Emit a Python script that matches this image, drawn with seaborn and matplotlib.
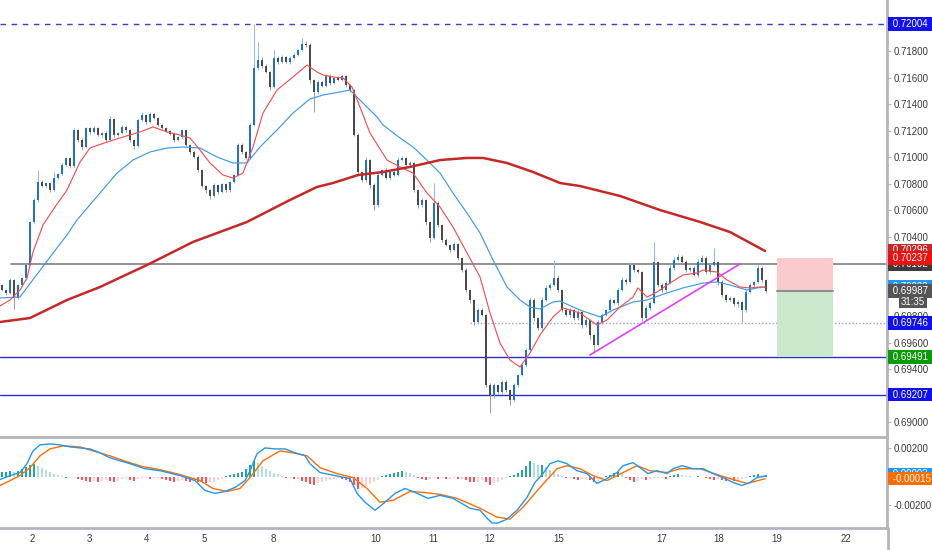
import numpy as np
import matplotlib
matplotlib.use("Agg")
import matplotlib.pyplot as plt
import matplotlib.transforms as mtransforms
from matplotlib.lines import Line2D
import seaborn as sns

# --- candles (one value per bar, bar index = x) ---
first_open = 0.70034
closes = [
    0.69996, 0.69974, 0.70072, 0.69936, 0.70034, 0.70087, 0.70185, 0.70510,
    0.70676, 0.70811, 0.70781, 0.70804, 0.70751, 0.70842, 0.70872, 0.70940,
    0.70993, 0.70932, 0.71204, 0.71128, 0.71076, 0.71219, 0.71189, 0.71219,
    0.71166, 0.71181, 0.71128, 0.71287, 0.71166, 0.71181, 0.71227, 0.71204,
    0.71128, 0.71083, 0.71279, 0.71317, 0.71264, 0.71325, 0.71295, 0.71242,
    0.71219, 0.71196, 0.71174, 0.71128, 0.71151, 0.71204, 0.71091, 0.71038,
    0.71000, 0.70902, 0.70781, 0.70751, 0.70706, 0.70789, 0.70736, 0.70796,
    0.70751, 0.70811, 0.70864, 0.71091, 0.71038, 0.70993, 0.71242, 0.71672,
    0.71732, 0.71687, 0.71642, 0.71528, 0.71747, 0.71717, 0.71755, 0.71717,
    0.71747, 0.71770, 0.71808, 0.71853, 0.71845, 0.71581, 0.71491, 0.71566,
    0.71536, 0.71611, 0.71559, 0.71596, 0.71581, 0.71611, 0.71544, 0.71506,
    0.71166, 0.70887, 0.70826, 0.70977, 0.70789, 0.70638, 0.70864, 0.70902,
    0.70842, 0.70887, 0.70864, 0.70977, 0.70993, 0.70940, 0.70955, 0.70751,
    0.70638, 0.70676, 0.70510, 0.70389, 0.70653, 0.70487, 0.70374, 0.70336,
    0.70298, 0.70343, 0.70238, 0.70147, 0.69996, 0.69921, 0.69755, 0.69845,
    0.69808, 0.69279, 0.69204, 0.69279, 0.69227, 0.69302, 0.69242, 0.69166,
    0.69279, 0.69355, 0.69430, 0.69544, 0.69921, 0.69785, 0.69710, 0.69921,
    0.70012, 0.70034, 0.70087, 0.69996, 0.69845, 0.69808, 0.69845, 0.69785,
    0.69830, 0.69732, 0.69770, 0.69657, 0.69581, 0.69755, 0.69808, 0.69845,
    0.69921, 0.69898, 0.69996, 0.70072, 0.70057, 0.70185, 0.70147, 0.70132,
    0.69785, 0.69861, 0.69898, 0.70208, 0.70034, 0.69996, 0.70049, 0.70162,
    0.70223, 0.70245, 0.70208, 0.70147, 0.70162, 0.70110, 0.70208, 0.70238,
    0.70132, 0.70185, 0.70208, 0.70057, 0.69959, 0.69921, 0.69936, 0.69891,
    0.69906, 0.69845, 0.69981, 0.70034, 0.70057, 0.70162, 0.70072, 0.69987,
]
# wick lengths beyond the body, in points (1e-5)
upper_wick_pts = [
    8, 10, 12, 6, 9, 10, 8, 10, 12, 90, 15, 10, 8, 45, 10, 12,
    10, 8, 15, 10, 12, 8, 10, 14, 8, 10, 12, 20, 10, 8, 12, 10,
    8, 10, 15, 20, 10, 12, 8, 10, 9, 8, 10, 12, 8, 10, 8, 10,
    8, 12, 10, 8, 10, 12, 8, 10, 9, 8, 10, 15, 12, 10, 14, 330,
    136, 20, 12, 10, 60, 15, 12, 10, 14, 12, 10, 45, 20, 12, 10, 15,
    10, 12, 15, 10, 18, 12, 10, 8, 10, 12, 10, 20, 10, 12, 15, 10,
    12, 10, 14, 20, 15, 10, 12, 8, 10, 12, 10, 8, 150, 12, 10, 12,
    10, 15, 8, 10, 12, 10, 8, 15, 12, 10, 12, 15, 10, 12, 15, 10,
    12, 10, 15, 12, 20, 15, 10, 20, 25, 15, 136, 20, 10, 12, 15, 10,
    12, 10, 15, 10, 8, 12, 15, 10, 12, 10, 15, 20, 12, 25, 15, 10,
    10, 12, 15, 150, 10, 12, 15, 20, 25, 20, 15, 12, 10, 15, 20, 25,
    12, 15, 105, 10, 12, 10, 12, 10, 12, 10, 15, 12, 10, 20, 12, 10,
]
lower_wick_pts = [
    10, 12, 8, 84, 10, 8, 12, 8, 10, 12, 10, 12, 15, 10, 8, 10,
    8, 12, 10, 15, 20, 10, 12, 8, 10, 12, 15, 10, 12, 10, 8, 12,
    15, 25, 10, 8, 12, 10, 8, 10, 12, 10, 8, 12, 10, 8, 10, 12,
    10, 15, 12, 20, 25, 10, 12, 10, 15, 12, 10, 8, 12, 10, 8, 10,
    12, 15, 10, 25, 8, 12, 10, 8, 12, 10, 8, 10, 12, 20, 150, 12,
    10, 8, 12, 10, 8, 10, 12, 15, 10, 20, 15, 12, 20, 40, 12, 10,
    10, 12, 10, 8, 10, 12, 10, 15, 25, 12, 20, 30, 10, 15, 12, 10,
    12, 10, 15, 12, 15, 20, 25, 12, 10, 15, 136, 20, 15, 12, 15, 38,
    15, 12, 10, 12, 15, 20, 15, 12, 10, 12, 10, 15, 12, 10, 15, 12,
    15, 20, 12, 30, 50, 10, 12, 10, 12, 10, 12, 10, 15, 10, 12, 10,
    20, 15, 12, 10, 15, 20, 12, 10, 12, 10, 12, 15, 12, 10, 12, 10,
    15, 12, 10, 20, 15, 12, 10, 15, 20, 90, 12, 10, 12, 10, 12, 10,
]

# --- moving averages (bar index, price) ---
ema_fast_bars = [-0.5, 2, 4.5, 6.25, 7.75, 10.25, 13.25, 16.25, 19.5, 22, 26.25, 30.25,
                 34.5, 37.75, 41.25, 44.5, 47, 49.5, 52, 55.25, 57.75, 60.25, 62.75, 65.25,
                 68.75, 72.75, 76.25, 78.75, 80.25, 82.75, 85.25, 87.5, 89.5, 92, 96.25, 99.5,
                 102.75, 106.25, 109.5, 112.75, 116.25, 119.5, 122, 124.5, 127, 129.5, 132,
                 134.5, 137.75, 140.25, 144.5, 148.75, 151.25, 154.5, 157.75, 159, 161.25,
                 163.75, 167, 170.25, 173.75, 175.25, 178.75, 181.25, 184.5, 187, 189.5, 190.75]
ema_fast_vals = [0.69876, 0.69921, 0.69996, 0.70087, 0.70283, 0.70487, 0.70623, 0.70751,
                 0.70962, 0.71068, 0.71113, 0.71151, 0.71189, 0.71227, 0.71189, 0.71166,
                 0.71143, 0.71053, 0.70955, 0.70864, 0.70842, 0.70879, 0.71076, 0.71332,
                 0.71506, 0.71604, 0.71694, 0.71642, 0.71619, 0.71604, 0.71596, 0.71528,
                 0.71377, 0.71181, 0.70977, 0.70925, 0.70879, 0.70728, 0.70623, 0.70472,
                 0.70276, 0.70095, 0.69823, 0.69596, 0.69468, 0.69415, 0.69521, 0.69657,
                 0.69793, 0.69861, 0.69823, 0.69732, 0.69770, 0.69868, 0.69943, 0.70012,
                 0.69943, 0.69981, 0.70049, 0.70110, 0.70125, 0.70147, 0.70132, 0.70072,
                 0.70019, 0.70012, 0.70019, 0.70019]
ema_slow_bars = [-0.5, 4.5, 12, 16.25, 18.75, 24.5, 28.75, 32.75, 37, 41.25, 45.25, 49.5,
                 53.75, 57.75, 61.25, 64.5, 68.75, 72.75, 77, 80.25, 84.5, 87, 89.5, 93.75,
                 95.25, 99.5, 102.75, 106.25, 109.5, 112.75, 116.25, 119.5, 122.75, 126.25,
                 129.5, 132, 134.5, 137.75, 139.5, 144.5, 149.5, 152.75, 157.75, 161.25,
                 166.25, 170.25, 175.25, 178.75, 182, 186.25, 188.75, 190.75]
ema_slow_vals = [0.69936, 0.69944, 0.70245, 0.70412, 0.70525, 0.70728, 0.70879, 0.70977,
                 0.71038, 0.71068, 0.71076, 0.71068, 0.71000, 0.70955, 0.70955, 0.71076,
                 0.71204, 0.71332, 0.71438, 0.71468, 0.71491, 0.71506, 0.71430, 0.71302,
                 0.71242, 0.71144, 0.71076, 0.70977, 0.70879, 0.70728, 0.70577, 0.70427,
                 0.70223, 0.70019, 0.69921, 0.69868, 0.69853, 0.69906, 0.69913, 0.69845,
                 0.69793, 0.69845, 0.69906, 0.69921, 0.69974, 0.70012, 0.70049, 0.70057,
                 0.70034, 0.69996, 0.70012, 0.70019]
sma200_bars = [-0.5, 7, 16.25, 24.5, 36.25, 47.75, 61.25, 72, 78.75, 82.75, 89, 95.25, 102,
               109.5, 116.25, 120.25, 126.25, 132.75, 139.5, 144.5, 154.5, 164.5, 174.5,
               182, 190.75]
sma200_vals = [0.69755, 0.69785, 0.69921, 0.70019, 0.70185, 0.70359, 0.70510, 0.70676,
               0.70774, 0.70804, 0.70864, 0.70887, 0.70925, 0.70977, 0.70993, 0.70993,
               0.70955, 0.70887, 0.70804, 0.70781, 0.70706, 0.70600, 0.70510, 0.70434,
               0.70291]

# --- MACD panel, values in points (1e-5) ---
macd_bars = [-0.5, 2, 4.5, 6.25, 7.75, 9.5, 12, 14.5, 17, 19.5, 22, 24.5, 27, 32, 35.75,
             39.5, 44.5, 48.25, 50.75, 53.25, 55.75, 58.25, 60.75, 62, 63.75, 65.75, 68.25,
             70.75, 73.25, 75.75, 77, 79.5, 83.25, 87, 88.75, 90.75, 93.25, 95.75, 98.25,
             100.75, 103.25, 106.5, 109.5, 112.75, 117, 119.5, 121.25, 122.5, 124, 126.25,
             128.75, 131.25, 133.25, 135.25, 137, 139, 141.25, 143.75, 146.25, 148.75,
             151.25, 153.75, 155.25, 157.75, 159.5, 161.5, 163.75, 166.25, 167.75, 170,
             172.75, 175.25, 177.75, 180.25, 182.75, 185, 187, 188.75, 190.75]
macd_pts = [-21, 7, 28, 90, 179, 221, 228, 221, 207, 200, 193, 166, 131, 90, 55, 41, 7,
            -28, -97, -117, -104, -76, -28, 41, 159, 200, 193, 193, 166, 145, 90, 28, 7,
            -14, -117, -179, -235, -179, -117, -83, -110, -152, -131, -152, -221, -235,
            -290, -324, -324, -297, -235, -145, -41, 21, 90, 110, 90, 41, 21, -48, -14, 28,
            76, 97, 62, 21, 41, 21, 55, 76, 55, 55, 21, -7, -41, -62, -41, -7, 3]
signal_bars = [-0.5, 2, 4.5, 7, 9.5, 12, 15.25, 19.5, 22.75, 27, 31.25, 35.25, 39.5, 44.5,
               49.5, 52.75, 56.25, 59.5, 62, 65.25, 69.5, 72.75, 76.25, 79.5, 83.75, 87.75,
               91.25, 94.5, 97.75, 102, 105.25, 109.5, 113.75, 119.5, 123.75, 127, 130.25,
               134.5, 138.75, 141.25, 144.5, 147.75, 151.25, 155.25, 158.75, 162, 166.25,
               169.5, 174.5, 179.5, 183.75, 186.25, 190.75]
signal_pts = [-62, -28, 7, 62, 145, 193, 214, 207, 179, 145, 103, 69, 48, 14, -28, -83,
              -104, -83, -7, 110, 179, 166, 145, 62, 21, -7, -83, -179, -166, -104, -110,
              -124, -152, -221, -283, -297, -214, -76, 55, 76, 55, 7, -28, 28, 76, 41, 28,
              55, 55, 7, -28, -48, -15]
hist_pts = [
    35, 35, 41, 35, 41, 55, 69, 83, 90, 76, 62, 48, 35, 21, 14, 7,
    -7, -7, -3, -14, -21, -28, -35, -28, -35, -28, -21, -28, -35, -28, -14, -7,
    -21, -28, -14, -7, -7, -14, -7, -7, -14, -21, -28, -35, -28, -21, -28, -35,
    -28, -35, -41, -48, -41, -35, -21, -14, 7, 14, 21, 28, 35, 55, 83, 110,
    97, 76, 55, 41, 28, 21, 7, -7, -7, -14, -14, -28, -41, -55, -62, -48,
    -35, -28, -21, -14, -7, -14, -21, -35, -62, -90, -83, -69, -55, -41, -21, 7,
    14, 21, 28, 35, 41, 35, 28, 14, -7, -14, -21, -14, -7, -14, -7, -14,
    -14, -7, -14, -14, -21, -35, -41, -35, -21, -41, -62, -48, -35, -21, -7, 7,
    14, 28, 48, 76, 110, 97, 83, 83, 69, 48, 35, 21, 7, -7, -7, -14,
    -21, -14, -14, -21, -35, -28, -14, 7, 14, 28, 35, 21, -7, -21, -35, -28,
    -14, -21, -14, -7, -7, -7, -14, 7, 14, 21, 14, 7, 3, -3, 3, -3,
    -7, -14, -21, -14, -21, -28, -21, -28, -21, -14, -7, 7, 14, 21, 14, 14,
]

# --- drawings ---
high_level = 0.72004
range_top = 0.70192
mid_level = 0.69746
support_1 = 0.69491
support_2 = 0.69207
trend_bars = [147, 184.5]
trend_vals = [0.69506, 0.70193]
pos_bars = [193.75, 207.75]
pos_stop, pos_entry, pos_target = 0.70237, 0.69987, 0.69491

day_labels = ["2", "3", "4", "5", "8", "10", "11", "12", "15", "17", "18", "19", "22"]
day_bars = [7.5, 21.75, 36.25, 50.5, 67.75, 93.5, 107.75, 122, 139.25, 165, 179.25, 193.75, 211]

sns.set_style("white")
plt.rcParams["font.family"] = ["Liberation Sans Narrow", "Liberation Sans", "DejaVu Sans"]

W, H = 932, 550
fig = plt.figure(figsize=(W / 100, H / 100), dpi=100)
ax = fig.add_axes([0, 113 / H, 887 / W, 437 / H])
axm = fig.add_axes([0, 22 / H, 887 / W, 89 / H])

AXIS_GRAY = "#b2b5be"
TXT = "#3a3a3a"

# candles
c = np.array(closes)
o = np.array([first_open] + closes[:-1])
bars = np.arange(len(c))
hi = np.maximum(o, c) + np.array(upper_wick_pts) * 1e-5
lo = np.minimum(o, c) - np.array(lower_wick_pts) * 1e-5
up = c >= o
body_col = np.where(up, "#1f6fd6", "#4a4a4a")
wick_col = np.where(up, "#8ab6ec", "#a0a0a0")
ax.vlines(bars, lo, hi, colors=wick_col, linewidth=0.7, zorder=2)
ax.bar(bars, np.maximum(np.abs(c - o), 0.00003), bottom=np.minimum(o, c), width=0.7,
       color=body_col, linewidth=0, zorder=3)

# moving averages
sns.lineplot(x=ema_slow_bars, y=ema_slow_vals, ax=ax, color="#3d9be9", linewidth=0.85,
             estimator=None, sort=False, legend=False, zorder=4)
sns.lineplot(x=ema_fast_bars, y=ema_fast_vals, ax=ax, color="#ef5350", linewidth=0.85,
             estimator=None, sort=False, legend=False, zorder=4)
sns.lineplot(x=sma200_bars, y=sma200_vals, ax=ax, color="#c62828", linewidth=1.8,
             estimator=None, sort=False, legend=False, zorder=4)

# horizontal levels and trendline
ax.axhline(high_level, color="#3b3bd6", linewidth=1, dashes=(4, 4), zorder=1)
ax.plot([2.25, 230], [range_top, range_top], color="#808080", linewidth=1.2, zorder=1)
ax.plot([117, 230], [mid_level, mid_level], color="#9c9cf0", linewidth=1, linestyle=(0, (1, 1.5)), zorder=1)
ax.axhline(support_1, color="#2b2bd0", linewidth=1, zorder=1)
ax.axhline(support_2, color="#2b2bd0", linewidth=1, zorder=1)
ax.plot(trend_bars, trend_vals, color="#e040fb", linewidth=1.2, zorder=5)

# short position tool
ax.fill_between(pos_bars, pos_entry, pos_stop, color="#fbcacd", linewidth=0, zorder=1)
ax.fill_between(pos_bars, pos_target, pos_entry, color="#c9e9cc", linewidth=0, zorder=1)
ax.plot(pos_bars, [pos_entry, pos_entry], color="#8f8f8f", linewidth=1.5, zorder=2)

ax.set_xlim(-0.5, 221.25)
ax.set_ylim(0.68887, 0.72185)
ax.set_yticks(np.arange(0.690, 0.7201, 0.002))
ax.yaxis.set_major_formatter(plt.FuncFormatter(lambda v, p: f"{v:.5f}"))
ax.yaxis.tick_right()
ax.set_xticks([])
ax.tick_params(axis="y", length=3, width=0.8, colors=AXIS_GRAY, labelcolor=TXT, labelsize=7, pad=2)

# MACD
hist = np.array(hist_pts) * 1e-5
prev = np.concatenate([[hist[0]], hist[:-1]])
hist_col = np.where(hist >= 0,
                    np.where(hist >= prev, "#26a69a", "#b2dfdb"),
                    np.where(hist < prev, "#ff5252", "#ffcdd2"))
axm.bar(bars, hist, width=0.7, color=hist_col, linewidth=0, zorder=2)
sns.lineplot(x=signal_bars, y=np.array(signal_pts) * 1e-5, ax=axm, color="#ff6d00",
             linewidth=1.0, estimator=None, sort=False, legend=False, zorder=3)
sns.lineplot(x=macd_bars, y=np.array(macd_pts) * 1e-5, ax=axm, color="#2196f3",
             linewidth=1.0, estimator=None, sort=False, legend=False, zorder=3)
axm.set_xlim(-0.5, 221.25)
axm.set_ylim(-0.003588, 0.002622)
axm.set_yticks([-0.002, 0.0, 0.002])
axm.yaxis.set_major_formatter(plt.FuncFormatter(lambda v, p: f"{v:.5f}"))
axm.yaxis.tick_right()
axm.set_xticks(day_bars)
axm.set_xticklabels(day_labels)
axm.tick_params(axis="y", length=3, width=0.8, colors=AXIS_GRAY, labelcolor=TXT, labelsize=7, pad=2)
axm.tick_params(axis="x", length=3, width=0.8, colors=AXIS_GRAY, labelcolor=TXT, labelsize=7, pad=1.5)

for a in (ax, axm):
    a.set_xlabel("")
    a.set_ylabel("")
    a.set_facecolor("white")
    for side in ("left", "top"):
        a.spines[side].set_visible(False)
    for side in ("right", "bottom"):
        a.spines[side].set_color(AXIS_GRAY)
        a.spines[side].set_linewidth(2)


def tag(a, value, text, bg, fg="white"):
    a.annotate(" " + text + " ", xy=(1, value),
               xycoords=mtransforms.blended_transform_factory(a.transAxes, a.transData),
               xytext=(2.2, 0), textcoords="offset points", ha="left", va="center",
               fontsize=7, color=fg, annotation_clip=False, zorder=10,
               bbox=dict(boxstyle="square,pad=0.18", fc=bg, ec="none"))


tag(ax, high_level, f"{high_level:.5f}", "#1010f0")
tag(ax, sma200_vals[-1] + 0.00005, "0.70296", "#c62828")
tag(ax, range_top, f"{range_top:.5f}", "#3c3c3c")
tag(ax, pos_stop, f"{pos_stop:.5f}", "#f01010")
tag(ax, ema_slow_vals[-1] + 0.00003, "0.70022", "#2196f3")
tag(ax, closes[-1], f"{closes[-1]:.5f}", "#555555")
ax.annotate("31:35", xy=(1, closes[-1]),
            xycoords=mtransforms.blended_transform_factory(ax.transAxes, ax.transData),
            xytext=(27.5, -7.4), textcoords="offset points", ha="right", va="center",
            fontsize=7, color="white", annotation_clip=False, zorder=10,
            bbox=dict(boxstyle="square,pad=0.18", fc="#555555", ec="none"))
tag(ax, mid_level, f"{mid_level:.5f}", "#1010f0")
tag(ax, support_1, f"{support_1:.5f}", "#0a9a0a")
tag(ax, support_2, f"{support_2:.5f}", "#1010f0")
tag(axm, macd_pts[-1] * 1e-5 + 0.00012, "0.00003", "#2196f3")
tag(axm, signal_pts[-1] * 1e-5, "-0.00015", "#ff6d00")

# axis line continues down past the time scale
fig.add_artist(Line2D([888 / W, 888 / W], [0, 22 / H], color=AXIS_GRAY, linewidth=2))

fig.savefig("out.png", dpi=100)
